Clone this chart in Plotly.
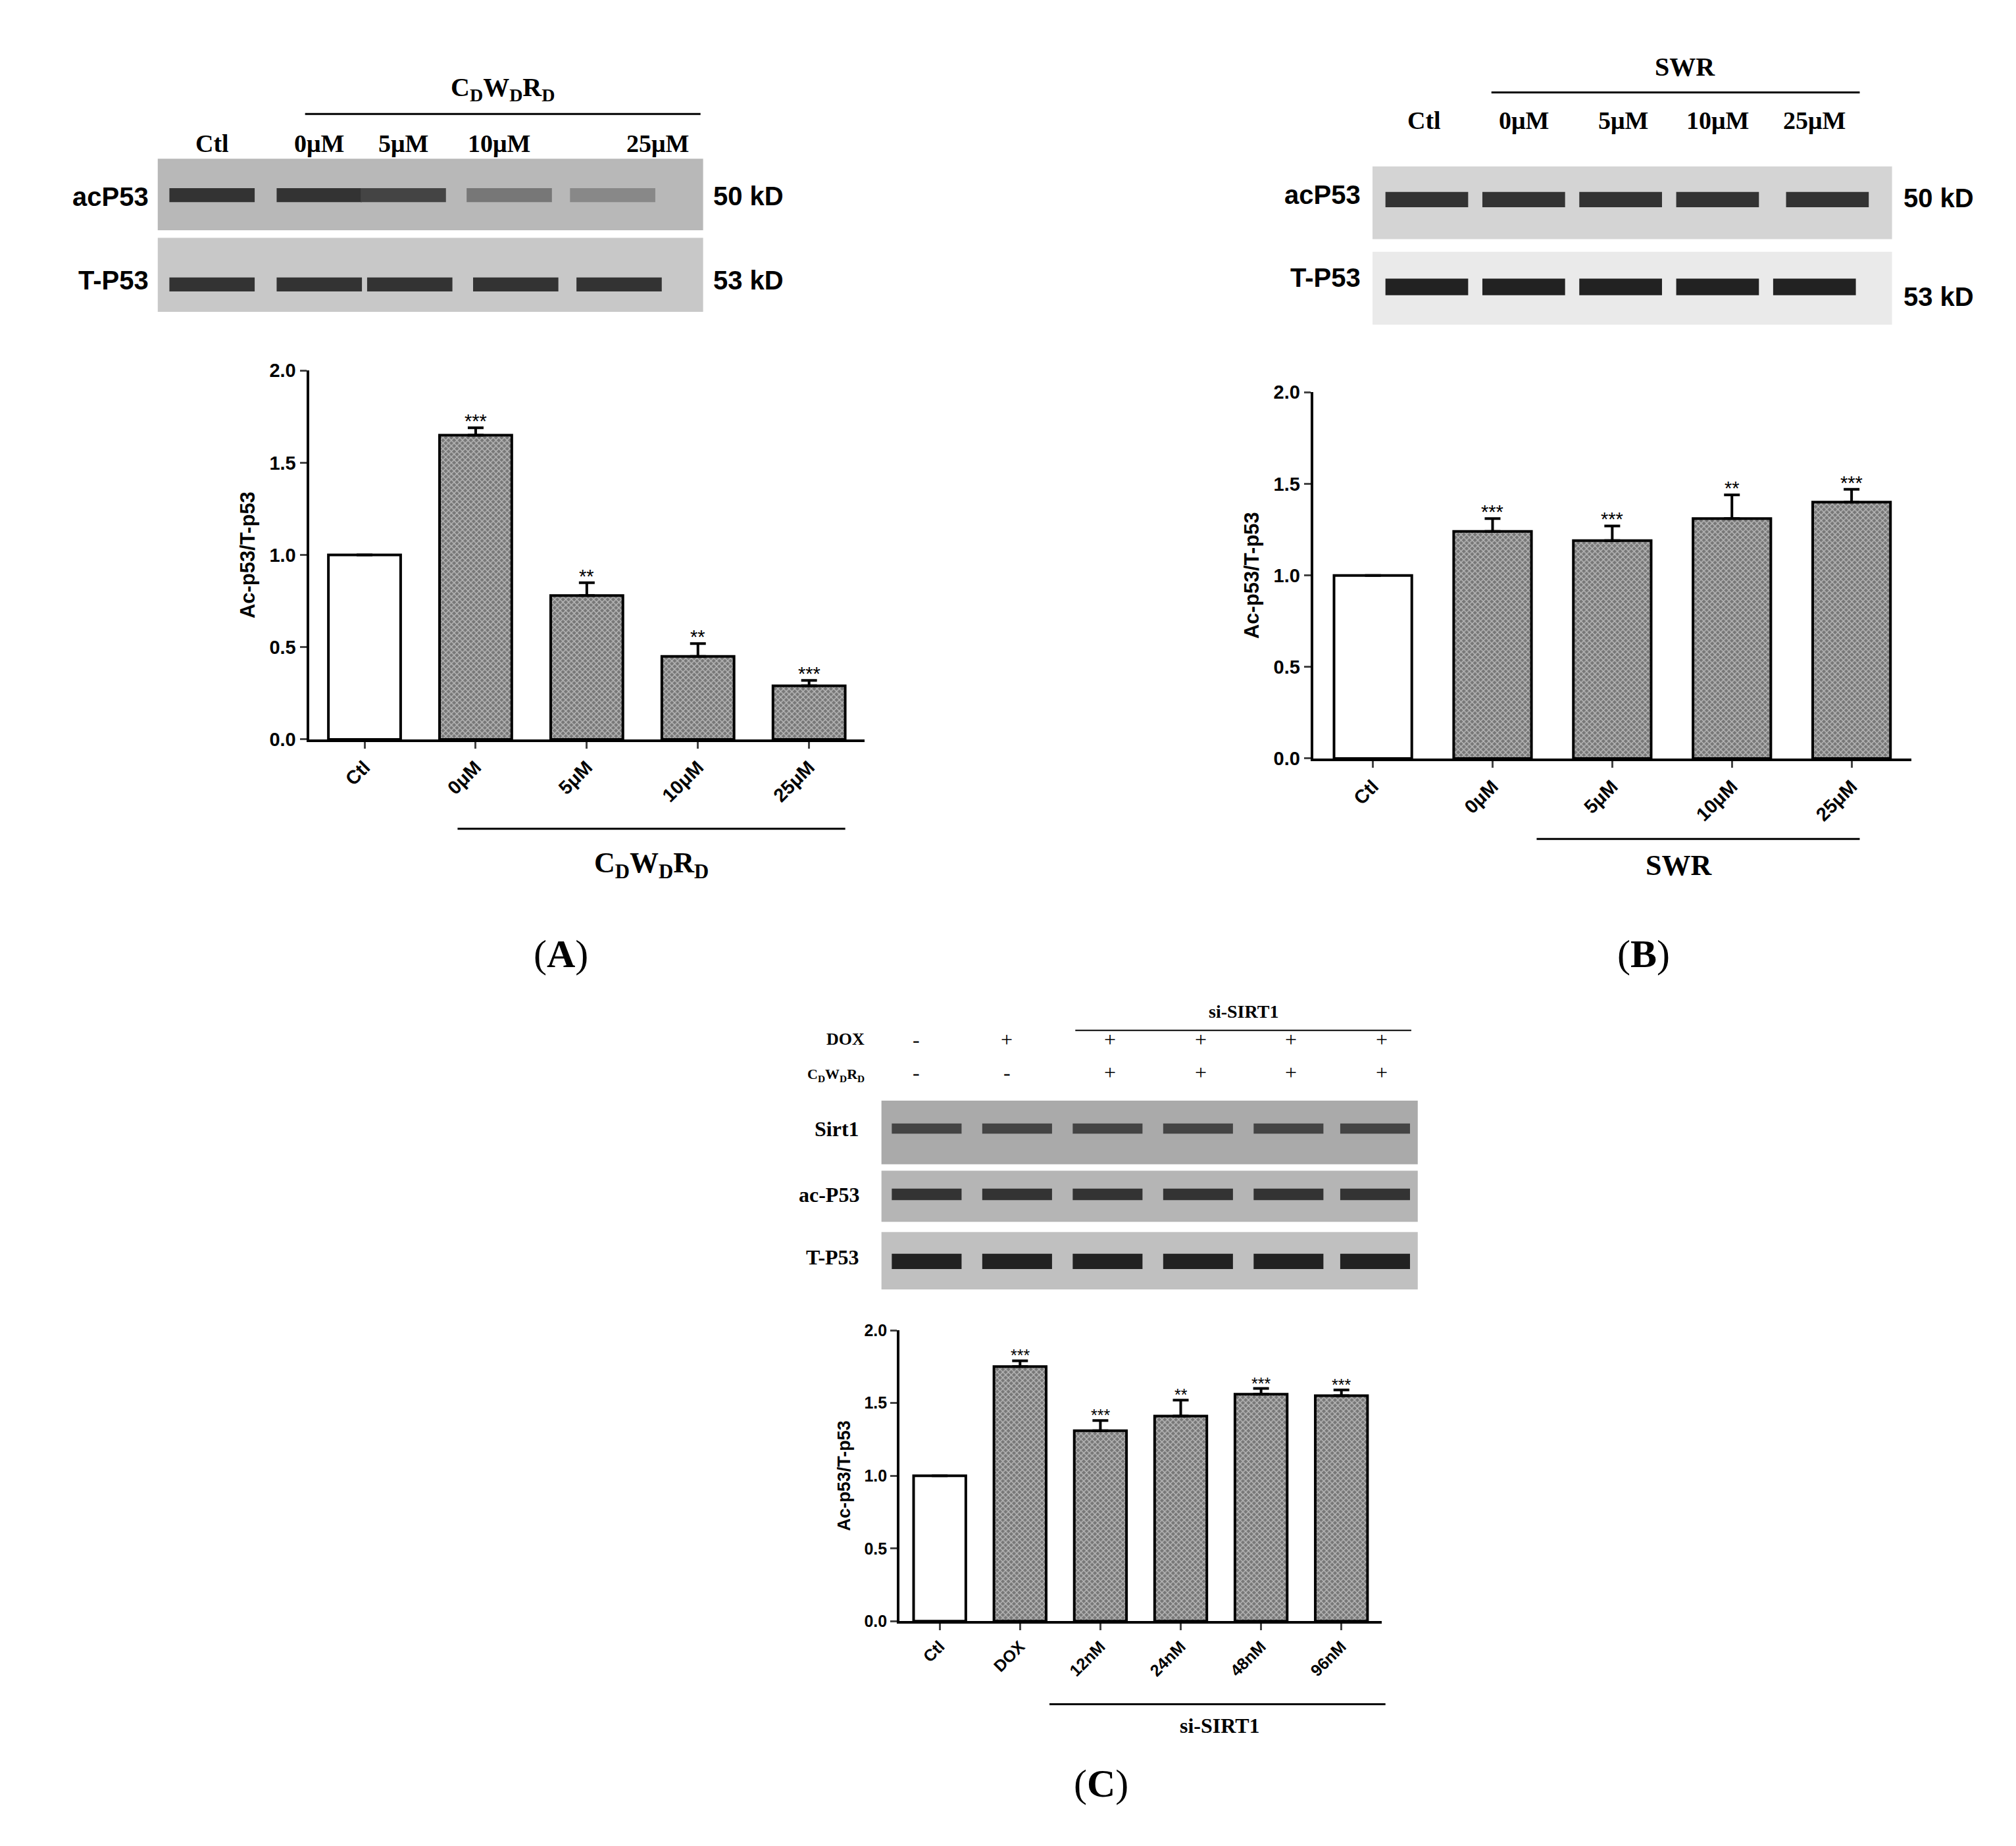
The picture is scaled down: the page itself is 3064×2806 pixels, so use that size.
import plotly.graph_objects as go

W, H = 3064, 2806
SX, SY = 1560.0, 1430.0
def P(x, y):
    return x / SX, 1 - y / SY

catsA = ["Ctl", "0μM", "5μM", "10μM", "25μM"]
valsA = [1.0, 1.65, 0.78, 0.45, 0.29]
errA = [0, 0.04, 0.07, 0.07, 0.03]
starsA = ["", "***", "**", "**", "***"]

catsB = ["Ctl", "0μM", "5μM", "10μM", "25μM"]
valsB = [1.0, 1.24, 1.19, 1.31, 1.40]
errB = [0, 0.07, 0.08, 0.13, 0.07]
starsB = ["", "***", "***", "**", "***"]

catsC = ["Ctl", "DOX", "12nM", "24nM", "48nM", "96nM"]
valsC = [1.0, 1.75, 1.31, 1.41, 1.56, 1.55]
errC = [0, 0.04, 0.07, 0.11, 0.04, 0.04]
starsC = ["", "***", "***", "**", "***", "***"]

ticks = [0, 0.5, 1.0, 1.5, 2.0]
tickText = ["0.0", "0.5", "1.0", "1.5", "2.0"]

fig = go.Figure()
panels = [
    ("x", "y", catsA, valsA, errA, starsA, (235, 665), (567, 278), 29),
    ("x2", "y2", catsB, valsB, errB, starsB, (1012, 1475), (582, 295), 29),
    ("x3", "y3", catsC, valsC, errC, starsC, (692, 1065), (1258, 1030), 25),
]
annotations = []
for i, (xa, ya, cats, vals, errs, stars, xr, yr, fs) in enumerate(panels):
    colors = ["white"] + ["#777777"] * (len(cats) - 1)
    shapes_p = [""] + ["x"] * (len(cats) - 1)
    fig.add_trace(go.Bar(
        x=cats, y=vals, xaxis=xa, yaxis=ya, width=0.65,
        marker=dict(color=colors, line=dict(color="black", width=4),
                    pattern=dict(shape=shapes_p, fgcolor="#222222", bgcolor="#9a9a9a", size=6, solidity=0.4)),
        error_y=dict(type="data", symmetric=False, array=errs, arrayminus=[0] * len(errs),
                     color="black", thickness=4, width=12),
        showlegend=False))
    for c, v, e, s in zip(cats, vals, errs, stars):
        if s:
            annotations.append(dict(x=c, y=v + e, xref=xa, yref=ya, text=s, showarrow=False,
                                    yanchor="bottom", yshift=-8, font=dict(size=fs, color="black", family="Arial")))
    tf = dict(size=fs, family="Arial", color="black", weight="bold")
    ax = dict(domain=[xr[0] / SX, xr[1] / SX], anchor=ya, showline=True, linecolor="black", linewidth=4,
              ticks="outside", tickwidth=3, ticklen=10, tickangle=-45, tickfont=tf, showgrid=False)
    ay = dict(domain=[1 - yr[0] / SY, 1 - yr[1] / SY], anchor=xa, range=[0, 2.0], tickvals=ticks, ticktext=tickText,
              showline=True, linecolor="black", linewidth=4, ticks="outside", tickwidth=3, ticklen=10,
              tickfont=tf, showgrid=False, zeroline=False,
              title=dict(text="Ac-p53/T-p53", font=dict(size=fs + 2, family="Arial", color="black", weight="bold"), standoff=14))
    key = "" if i == 0 else str(i + 1)
    fig.update_layout(**{"xaxis" + key: ax, "yaxis" + key: ay})

shapes = []
def line(x0, y0, x1, y1, w=3):
    a, b = P(x0, y0); c, d = P(x1, y1)
    shapes.append(dict(type="line", xref="paper", yref="paper", x0=a, y0=b, x1=c, y1=d, line=dict(color="black", width=w)))
def rect(x0, y0, x1, y1, col):
    a, b = P(x0, y1); c, d = P(x1, y0)
    shapes.append(dict(type="rect", xref="paper", yref="paper", x0=a, y0=b, x1=c, y1=d, fillcolor=col,
                       line=dict(width=0, color=col)))
def text(x, y, t, size, family="Times New Roman", bold=True, anchor="center"):
    a, b = P(x, y)
    annotations.append(dict(x=a, y=b, xref="paper", yref="paper", text=("<b>%s</b>" % t) if bold else t,
                            showarrow=False, xanchor=anchor, yanchor="middle",
                            font=dict(size=size, family=family, color="black")))

line(350, 637, 650, 637); text(500, 665, "C<sub>D</sub>W<sub>D</sub>R<sub>D</sub>", 44)
line(1185, 645, 1435, 645); text(1295, 666, "SWR", 44)
line(808, 1323, 1068, 1323); text(940, 1340, "si-SIRT1", 32)
text(430, 735, "(<b>A</b>)", 60, bold=False)
text(1268, 735, "(<b>B</b>)", 60, bold=False)
text(848, 1385, "(<b>C</b>)", 60, bold=False)

# Blot A
rect(118, 112, 540, 168, "#b8b8b8"); rect(118, 174, 540, 232, "#c8c8c8")
for x, k in zip([160, 243, 308, 390, 470], ["#333", "#333", "#444", "#777", "#888"]):
    rect(x - 33, 135, x + 33, 146, k)
for x in [160, 243, 313, 395, 475]:
    rect(x - 33, 205, x + 33, 216, "#333")
line(232, 77, 538, 77)
text(385, 57, "C<sub>D</sub>W<sub>D</sub>R<sub>D</sub>", 40)
for x, t in zip([160, 243, 308, 382, 505], ["Ctl", "0μM", "5μM", "10μM", "25μM"]):
    text(x, 100, t, 38)
text(112, 142, "acP53", 40, "Arial", anchor="right"); text(112, 207, "T-P53", 40, "Arial", anchor="right")
text(547, 141, "50 kD", 40, "Arial", anchor="left"); text(547, 207, "53 kD", 40, "Arial", anchor="left")

# Blot B
rect(1058, 118, 1460, 175, "#d4d4d4"); rect(1058, 185, 1460, 242, "#eaeaea")
for x in [1100, 1175, 1250, 1325, 1410]:
    rect(x - 32, 138, x + 32, 150, "#333")
for x in [1100, 1175, 1250, 1325, 1400]:
    rect(x - 32, 206, x + 32, 219, "#222")
line(1150, 60, 1435, 60)
text(1300, 40, "SWR", 40)
for x, t in zip([1098, 1175, 1252, 1325, 1400], ["Ctl", "0μM", "5μM", "10μM", "25μM"]):
    text(x, 82, t, 38)
text(1050, 140, "acP53", 40, "Arial", anchor="right"); text(1050, 205, "T-P53", 40, "Arial", anchor="right")
text(1468, 143, "50 kD", 40, "Arial", anchor="left"); text(1468, 220, "53 kD", 40, "Arial", anchor="left")

# Blot C
rect(678, 850, 1093, 900, "#aaaaaa"); rect(678, 905, 1093, 945, "#b5b5b5"); rect(678, 953, 1093, 998, "#c0c0c0")
for x in [713, 783, 853, 923, 993, 1060]:
    rect(x - 27, 868, x + 27, 876, "#444")
    rect(x - 27, 919, x + 27, 928, "#333")
    rect(x - 27, 970, x + 27, 982, "#222")
line(828, 795, 1088, 795, 2)
text(958, 780, "si-SIRT1", 28)
text(666, 802, "DOX", 26, anchor="right")
text(666, 830, "C<sub>D</sub>W<sub>D</sub>R<sub>D</sub>", 22, anchor="right")
for x, a, b in zip([705, 775, 855, 925, 995, 1065], ["-", "+", "+", "+", "+", "+"], ["-", "-", "+", "+", "+", "+"]):
    text(x, 802, a, 32, bold=False); text(x, 828, b, 32, bold=False)
text(662, 872, "Sirt1", 32, anchor="right"); text(662, 924, "ac-P53", 32, anchor="right"); text(662, 973, "T-P53", 32, anchor="right")

fig.update_layout(width=W, height=H, margin=dict(l=0, r=0, t=0, b=0), plot_bgcolor="white", paper_bgcolor="white",
                  shapes=shapes, annotations=annotations, bargap=0.35)
fig.write_html("out.html")
